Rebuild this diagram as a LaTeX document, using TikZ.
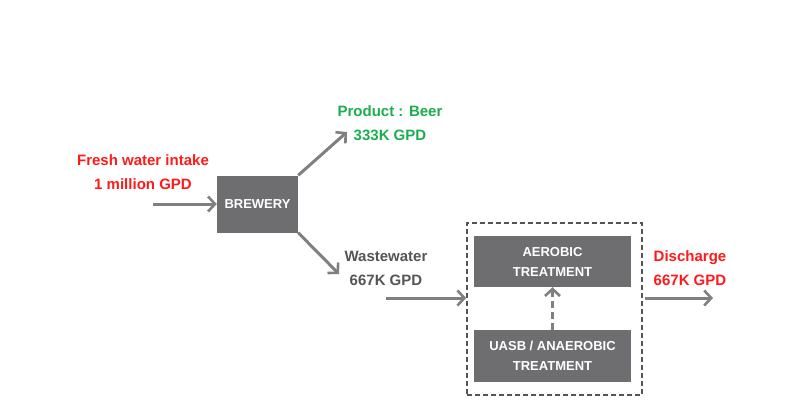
\documentclass[tikz,border=0pt]{standalone}
\usepackage{fontspec}
\setmainfont{Liberation Sans}
\usetikzlibrary{arrows.meta}
\definecolor{boxgray}{HTML}{6E6E70}
\definecolor{arrgray}{HTML}{808080}
\definecolor{txtgray}{HTML}{555555}
\definecolor{myred}{HTML}{FF1A1A}
\definecolor{mygreen}{HTML}{1AAE4E}
\tikzset{
  box/.style={fill=boxgray, draw=none, text=white, font=\fontsize{13}{16}\selectfont\bfseries, align=center, inner sep=0pt},
  flow/.style={draw=arrgray, line width=3pt, -{Straight Barb[length=7pt,width=15pt,line width=2.6pt]}},
  lbl/.style={font=\fontsize{15}{24}\selectfont\bfseries, align=center, inner sep=0pt},
}
\begin{document}
\begin{tikzpicture}[x=1pt,y=-1pt]
\useasboundingbox (0,0) rectangle (800,400);
% boxes
\node[box, minimum width=81pt, minimum height=57pt] (brew) at (257.5,204) {BREWERY};
\node[box, minimum width=157pt, minimum height=51pt] (aero) at (552.5,261.5) {AEROBIC\\[4pt]TREATMENT};
\node[box, minimum width=157pt, minimum height=52pt] (uasb) at (552.5,356) {UASB / ANAEROBIC\\[4pt]TREATMENT};
\node[draw=txtgray, dashed, line width=1.6pt, dash pattern=on 5pt off 3pt, minimum width=175pt, minimum height=172pt, inner sep=0pt] (frame) at (554.5,309) {};
% coordinates
\coordinate (fin) at (153,204);
\coordinate (pend) at (347,132);
\coordinate (wend) at (339,274);
\coordinate (win) at (386,298);
\coordinate (dend) at (713,298);
% labels
\node[lbl, text=myred] (fresh) at (143,172) {Fresh water intake\\1 million GPD};
\node[lbl, text=mygreen] (prod) at (390,123) {Product : Beer\\333K GPD};
\node[lbl, text=txtgray] (ww) at (386,268) {Wastewater\\667K GPD};
\node[lbl, text=myred] (dis) at (690,268) {Discharge\\667K GPD};
% connectors
\draw[flow] (fin) -- (fin -| brew.west);
\draw[flow] (brew.north east) -- (pend);
\draw[flow] (brew.south east) -- (wend);
\draw[flow] (win) -- (frame.west |- win);
\draw[flow] (frame.east |- dend) ++(2,0) -- (dend);
\draw[flow, dashed, dash pattern=on 7pt off 4pt] (uasb.north) -- (aero.south);
\end{tikzpicture}
\end{document}
